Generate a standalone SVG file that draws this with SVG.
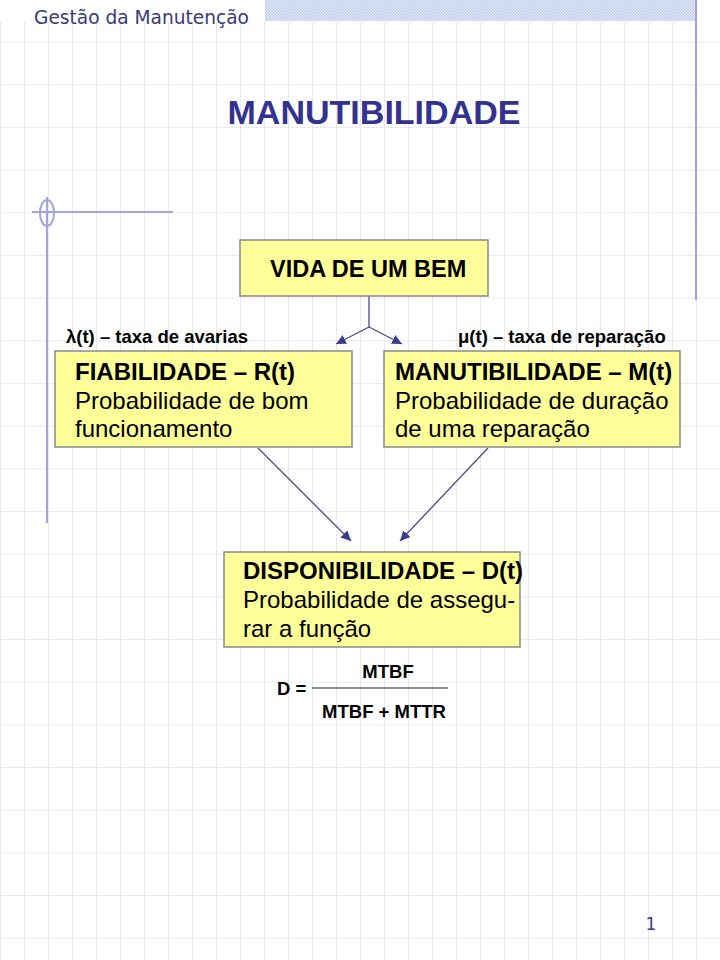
<svg xmlns="http://www.w3.org/2000/svg" width="720" height="960" viewBox="0 0 720 960">
<defs>
<pattern id="grid" x="0" y="41.6" width="24" height="42.67" patternUnits="userSpaceOnUse">
<line x1="0" y1="0" x2="24" y2="0" stroke="#e8e8f1" stroke-width="1.5"/>
<line x1="0" y1="0" x2="24" y2="0" stroke="#c8c8d8" stroke-width="1" stroke-dasharray="1 3"/>
<line x1="0" y1="0" x2="0" y2="42.67" stroke="#e8e8f1" stroke-width="1.5"/>
<line x1="0" y1="0" x2="0" y2="42.67" stroke="#c8c8d8" stroke-width="1" stroke-dasharray="1 3"/>
</pattern>
<pattern id="check" x="0" y="0" width="3" height="3" patternUnits="userSpaceOnUse">
<rect width="3" height="3" fill="#e6ecfa"/>
<rect width="1.5" height="1.5" fill="#bccbee"/>
<rect x="1.5" y="1.5" width="1.5" height="1.5" fill="#bccbee"/>
</pattern>
<marker id="arr" viewBox="0 0 10 10" refX="10" refY="5" markerWidth="10" markerHeight="10" markerUnits="userSpaceOnUse" orient="auto">
<path d="M0,0 L10,5 L0,10 z" fill="#3c3c8c"/>
</marker>
<style>
.box{fill:#ffff99;stroke:#8a8a8a;stroke-width:1.5}
.b{font-family:"Liberation Sans",Arial,sans-serif;font-weight:bold;fill:#000}
.r{font-family:"Liberation Sans",Arial,sans-serif;fill:#000}
.con{stroke:#4a4a8e;stroke-width:1.3;fill:none}
.deco{stroke:#a4a4d8;stroke-width:2;fill:none}
</style>
</defs>
<rect width="720" height="960" fill="#ffffff"/>
<rect x="0" y="22" width="720" height="938" fill="url(#grid)"/>
<rect x="265" y="0" width="431" height="21" fill="url(#check)"/>
<text x="34" y="24" font-family="Tahoma,'DejaVu Sans',sans-serif" font-size="19.5" fill="#3a3a7a" textLength="215" lengthAdjust="spacingAndGlyphs">Gestão da Manutenção</text>
<line class="deco" x1="696" y1="0" x2="696" y2="300"/>
<line class="deco" x1="47" y1="197" x2="47" y2="523"/>
<line class="deco" x1="32" y1="212" x2="173" y2="212"/>
<ellipse class="deco" cx="47" cy="213" rx="7" ry="13" stroke-width="1.5"/>
<text x="374" y="124" text-anchor="middle" font-family="'Liberation Sans',Arial,sans-serif" font-weight="bold" font-size="34" fill="#33338f" textLength="293" lengthAdjust="spacingAndGlyphs">MANUTIBILIDADE</text>
<g id="connectors">
<line class="con" x1="369" y1="296" x2="369" y2="327"/>
<line class="con" x1="369" y1="327" x2="336" y2="344" marker-end="url(#arr)"/>
<line class="con" x1="369" y1="327" x2="402" y2="344" marker-end="url(#arr)"/>
<line class="con" x1="258" y1="448" x2="351" y2="541" marker-end="url(#arr)"/>
<line class="con" x1="488" y1="448" x2="400" y2="541" marker-end="url(#arr)"/>
</g>
<g id="vida">
<rect class="box" x="240" y="240" width="248" height="56"/>
<text class="b" x="270" y="277" font-size="23.5">VIDA DE UM BEM</text>
</g>
<g id="lambda">
<text class="b" x="66" y="343" font-size="18.5">λ(t) – taxa de avarias</text>
</g>
<g id="mu">
<text class="b" x="458" y="343" font-size="18.5">μ(t) – taxa de reparação</text>
</g>
<g id="fiabilidade">
<rect class="box" x="55" y="351" width="297" height="96"/>
<text class="b" x="75" y="380" font-size="24">FIABILIDADE – R(t)</text>
<text class="r" x="75" y="409" font-size="24">Probabilidade de bom</text>
<text class="r" x="75" y="437" font-size="24">funcionamento</text>
</g>
<g id="manutibilidade">
<rect class="box" x="384" y="351" width="296" height="96"/>
<text class="b" x="395" y="380" font-size="24">MANUTIBILIDADE – M(t)</text>
<text class="r" x="395" y="409" font-size="24">Probabilidade de duração</text>
<text class="r" x="395" y="437" font-size="24">de uma reparação</text>
</g>
<g id="disponibilidade">
<rect class="box" x="224" y="552" width="296" height="95"/>
<text class="b" x="243" y="579" font-size="24">DISPONIBILIDADE – D(t)</text>
<text class="r" x="243" y="608" font-size="24">Probabilidade de assegu-</text>
<text class="r" x="243" y="637" font-size="24">rar a função</text>
</g>
<g id="formula">
<text class="b" x="277" y="695" font-size="18.5">D =</text>
<line x1="312" y1="688" x2="448" y2="688" stroke="#6a6a6a" stroke-width="1.5"/>
<text class="b" x="388" y="678" font-size="18.5" text-anchor="middle">MTBF</text>
<text class="b" x="384" y="718" font-size="18.5" text-anchor="middle">MTBF + MTTR</text>
</g>
<text x="651" y="930" text-anchor="middle" font-family="Tahoma,'DejaVu Sans',sans-serif" font-size="17" fill="#3a3a7a">1</text>
</svg>
